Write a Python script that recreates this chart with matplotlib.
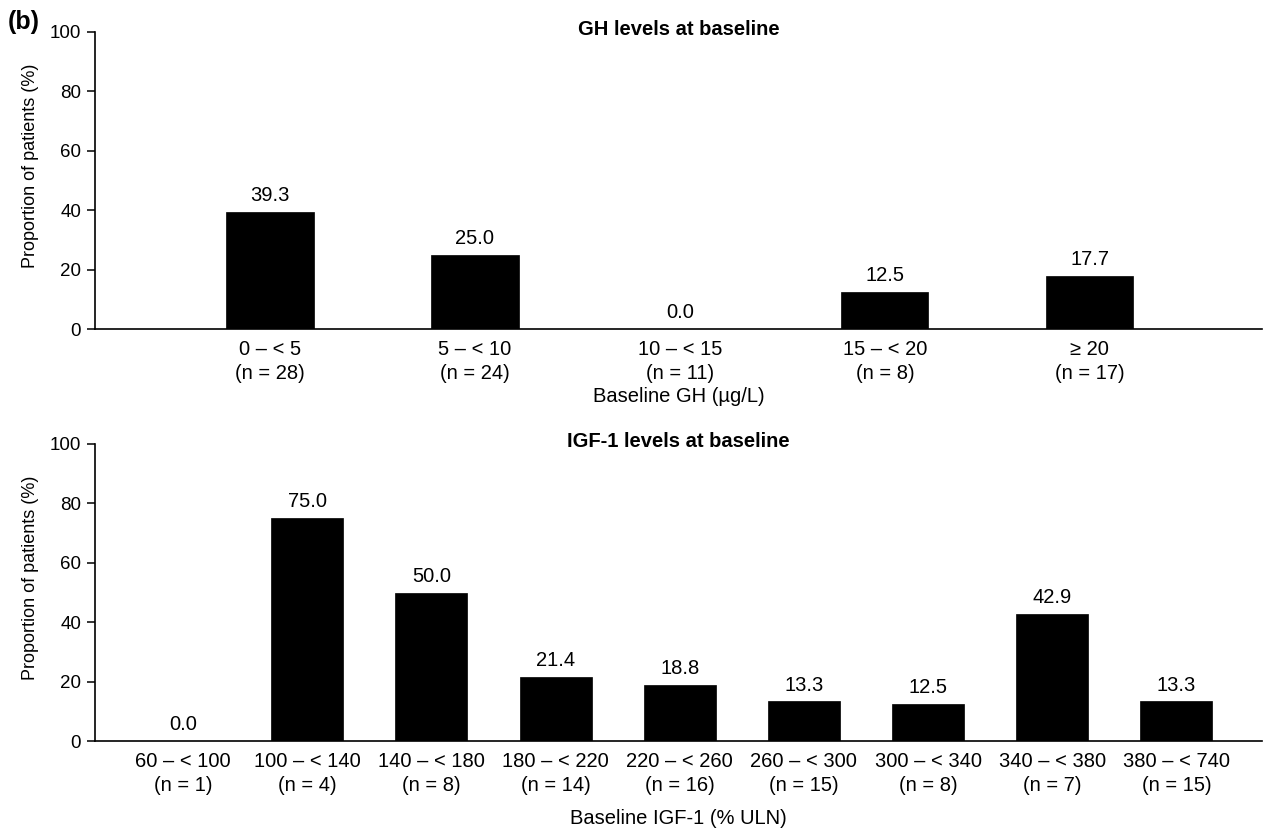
import matplotlib
matplotlib.use("Agg")
import matplotlib.pyplot as plt
import numpy as np

plt.rcParams['font.family'] = ['Liberation Sans', 'DejaVu Sans']

gh_categories = ["0 \u2013 < 5", "5 \u2013 < 10", "10 \u2013 < 15", "15 \u2013 < 20", "\u2265 20"]
gh_n = [28, 24, 11, 8, 17]
gh_values = [39.3, 25.0, 0.0, 12.5, 17.7]

igf_categories = ["60 \u2013 < 100", "100 \u2013 < 140", "140 \u2013 < 180", "180 \u2013 < 220",
                  "220 \u2013 < 260", "260 \u2013 < 300", "300 \u2013 < 340", "340 \u2013 < 380",
                  "380 \u2013 < 740"]
igf_n = [1, 4, 8, 14, 16, 15, 8, 7, 15]
igf_values = [0.0, 75.0, 50.0, 21.4, 18.8, 13.3, 12.5, 42.9, 13.3]

W, H = 1263, 834
fig = plt.figure(figsize=(W / 100, H / 100), dpi=100)

FS = 14.5

def setup(ax, cats, ns, vals, width, xlim, title, xlabel, xlabel_pad):
    x = np.arange(len(cats))
    ax.bar(x, vals, width=width, color='black', edgecolor='black', linewidth=0.5)
    for xi, v in zip(x, vals):
        ax.annotate(f"{v:.1f}", (xi, v), xytext=(0, 5), textcoords='offset points',
                    ha='center', va='bottom', fontsize=FS)
    ax.set_xlim(*xlim)
    ax.set_ylim(0, 100)
    ax.set_yticks([0, 20, 40, 60, 80, 100])
    ax.set_xticks(x)
    ax.set_xticklabels([f"{c}\n(n = {n})" for c, n in zip(cats, ns)], fontsize=FS,
                       linespacing=1.3)
    ax.tick_params(axis='x', length=0, pad=8)
    ax.tick_params(axis='y', length=6, width=1.1, pad=4, labelsize=13.5, direction='out')
    for s in ['top', 'right']:
        ax.spines[s].set_visible(False)
    for s in ['left', 'bottom']:
        ax.spines[s].set_linewidth(1.2)
    ax.annotate(title, (0.5, 1.0), xycoords='axes fraction', xytext=(0, 2),
                textcoords='offset points', ha='center', va='center',
                fontsize=FS, fontweight='bold')
    ax.set_xlabel(xlabel, fontsize=FS, labelpad=xlabel_pad)
    ax.set_ylabel("Proportion of patients (%)", fontsize=13)
    ax.yaxis.set_label_coords(-0.048, 0.55)

ax1 = fig.add_axes([95 / W, 1 - 329 / H, 1167 / W, 297 / H])
setup(ax1, gh_categories, gh_n, gh_values, 0.425, (-0.854, 4.84),
      "GH levels at baseline", "Baseline GH (\u00b5g/L)", 3)

ax2 = fig.add_axes([95 / W, 1 - 741 / H, 1167 / W, 297 / H])
setup(ax2, igf_categories, igf_n, igf_values, 0.58, (-0.71, 8.69),
      "IGF-1 levels at baseline", "Baseline IGF-1 (% ULN)", 10)

fig.text(8 / W, 1 - 22 / H, "(b)", fontsize=18, fontweight='bold', ha='left', va='center')

fig.savefig("out.png", dpi=100)
